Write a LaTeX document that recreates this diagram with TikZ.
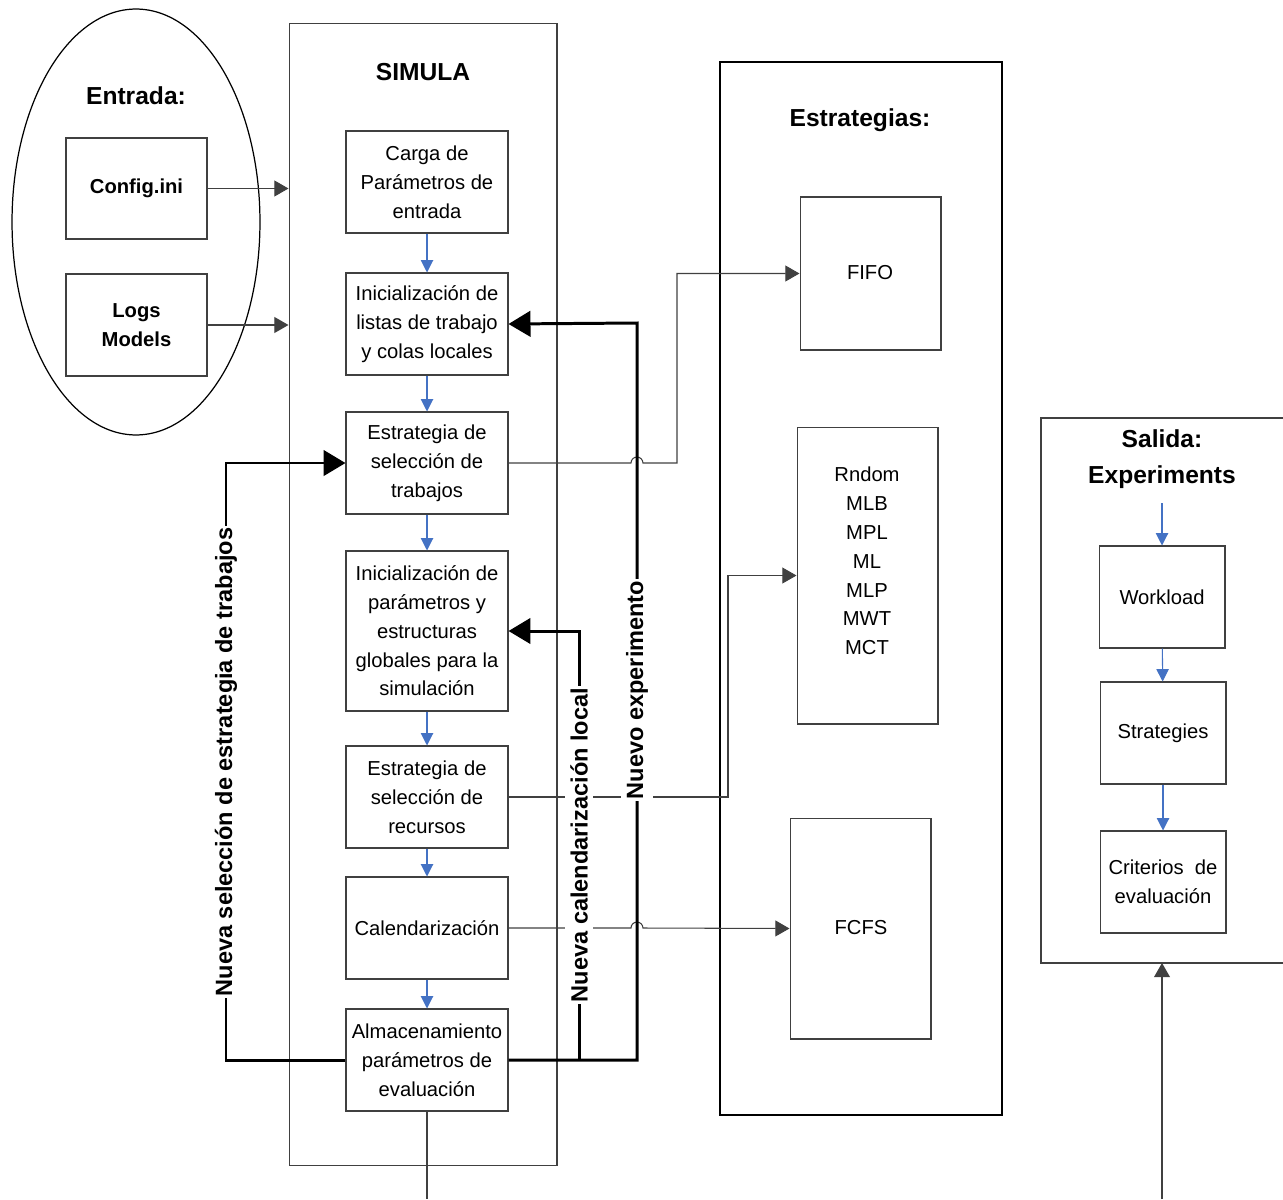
\documentclass[tikz,border=0pt]{standalone}
\usepackage{fontspec}
\setmainfont{Liberation Sans}
\usetikzlibrary{shapes.geometric, positioning, arrows.meta}

\definecolor{azul}{RGB}{68,114,196}
\definecolor{gris}{RGB}{64,64,64}

\tikzset{
  paso/.style={rectangle, draw=gris, line width=0.6pt, minimum width=3.24cm, minimum height=2.04cm, align=center, inner sep=1pt, font=\fontsize{11.5}{16.4}\selectfont},
  estrat/.style={rectangle, draw=gris, line width=0.6pt, minimum width=2.82cm, align=center},
  marco/.style={rectangle, draw=gris, line width=0.6pt},
  titulo/.style={align=center, font=\fontsize{14}{20.4}\selectfont\bfseries},
  texto/.style={align=center, font=\fontsize{11.5}{16.4}\selectfont},
  etiqueta/.style={rotate=90, fill=white, inner xsep=1pt, inner ysep=3pt, font=\fontsize{13.4}{16}\selectfont\bfseries},
  flujo/.style={azul, line width=0.6pt, -{Triangle[length=7pt,width=7pt]}},
  conector/.style={gris, line width=0.6pt},
  flecha/.style={conector, -{Triangle[length=8pt,width=9pt]}},
  retorno/.style={black, line width=1.7pt},
  regreso/.style={retorno, -{Triangle[length=12.5pt,width=14.5pt]}}
}

\begin{document}
\begin{tikzpicture}[x=0.02cm, y=-0.02cm]
\useasboundingbox (0,0) rectangle (1283,1199);

% entrada
\node[ellipse, draw, line width=0.7pt, minimum width=4.96cm, minimum height=8.52cm] at (136,222) (entrada) {};
\node[titulo] at (136,96) (tent) {Entrada:};
\node[estrat, minimum height=2.02cm, font=\fontsize{11.5}{16.4}\selectfont\bfseries] at (136.5,188.5) (config) {Config.ini};
\node[estrat, minimum height=2.04cm, font=\fontsize{11.5}{16.4}\selectfont\bfseries] at (136.5,325) (logs) {Logs\\Models};

% simula
\node[marco, minimum width=5.36cm, minimum height=22.86cm] at (423,594.5) (simula) {};
\node[titulo] at (423,72) (tsim) {SIMULA};

\node[paso] at (427,182) (b1) {Carga de\\Parámetros de\\entrada};
\node[paso] at (427,324) (b2) {Inicialización de\\listas de trabajo\\y colas locales};
\node[paso] at (427,463) (b3) {Estrategia de\\selección de\\trabajos};
\node[paso, minimum height=3.2cm] at (427,631) (b4) {Inicialización de\\parámetros y\\estructuras\\globales para la\\simulación};
\node[paso] at (427,797) (b5) {Estrategia de\\selección de\\recursos};
\node[paso] at (427,928) (b6) {Calendarización};
\node[paso] at (427,1060) (b7) {Almacenamiento\\parámetros de\\evaluación};
\coordinate (sim-fin) at (427,1199);

\foreach \a/\b in {b1/b2, b2/b3, b3/b4, b4/b5, b5/b6, b6/b7}
  \draw[flujo] (\a) -- (\b);
\draw[conector] (b7) -- (sim-fin);

\draw[flecha] (config.east) -- (config.east -| simula.west);
\draw[flecha] (logs.east) -- (logs.east -| simula.west);

% estrategias
\node[marco, draw=black, line width=1.1pt, minimum width=5.64cm, minimum height=21.06cm] at (861,588.5) (estr) {};
\node[titulo] at (860,120) (testr) {Estrategias:};
\node[estrat, minimum height=3.06cm] at (870.5,273.5) (fifo) {};
\node[texto] at (870,273) (tfifo) {FIFO};
\node[estrat, minimum height=5.94cm] at (867.5,575.5) (rnd) {};
\node[texto] at (867,561) (trnd) {Rndom\\MLB\\MPL\\ML\\MLP\\MWT\\MCT};
\node[estrat, minimum height=4.42cm] at (860.5,928.5) (fcfs) {};
\node[texto] at (861,928) (tfcfs) {FCFS};

% salida
\draw[conector] (1283,418) -| (1041,963) -- (1283,963);
\node[titulo] at (1162,459) (tsal) {Salida:\\Experiments};
\node[paso, minimum width=2.52cm] at (1162,597) (work) {Workload};
\node[paso, minimum width=2.52cm] at (1163,733) (strat) {Strategies};
\node[paso, minimum width=2.52cm] at (1163,882) (crit) {Criterios\ \ de\\evaluación};
\coordinate (sal-in) at (1162,503);
\coordinate (sal-base) at (1162,963);
\coordinate (sal-fin) at (1162,1199);
\draw[flujo] (sal-in) -- (work);
\draw[flujo] (work) -- (strat);
\draw[flujo] (strat) -- (crit);
\draw[flecha] (sal-fin) -- (sal-base);

% conectores a estrategias
\draw[flecha] (b3.east) -- (631,463) arc[start angle=180, end angle=0, radius=3.4pt] -- (677,463) |- (fifo.west);
\draw[flecha] (b5.east) -- (728,797) |- (rnd.west);
\draw[flecha] (b6.east) -- (631,928) arc[start angle=180, end angle=0, radius=3.4pt] -- (fcfs.west);

% lazos de retorno
\coordinate (cruce) at (579,1060);
\draw[regreso] (b7.west) -| (226,463) -- (b3.west);
\draw[regreso] (b7.east) -| (637,323) -- (b2.east);
\draw[regreso] (cruce) |- (b4.east);

\node[etiqueta] at (226,762) (l1) {Nueva selección de estrategia de trabajos};
\node[etiqueta] at (579,845) (l2) {Nueva calendarización local};
\node[etiqueta] at (637,690) (l3) {Nuevo experimento};
\end{tikzpicture}
\end{document}
